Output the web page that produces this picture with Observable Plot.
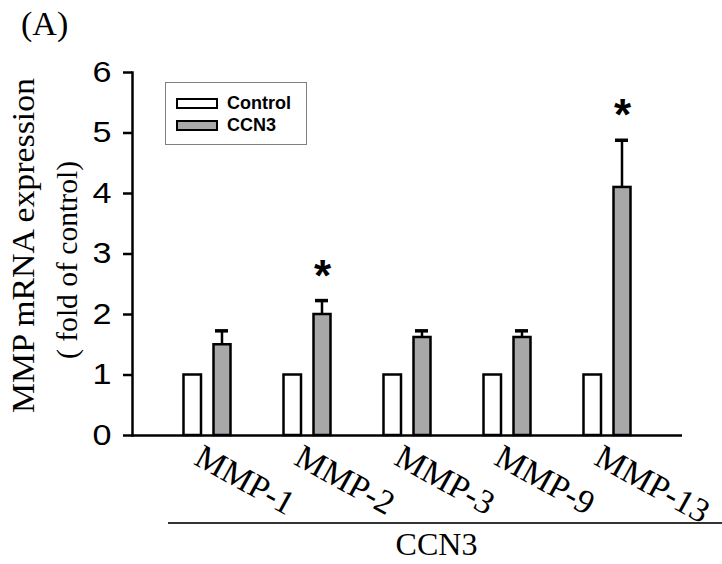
<!DOCTYPE html>
<html><head><meta charset="utf-8">
<script src="https://cdn.jsdelivr.net/npm/d3@7"></script>
<script src="https://cdn.jsdelivr.net/npm/@observablehq/plot@0.6"></script>
<style>
body{margin:0;background:#fff;}
#chart{position:relative;width:722px;height:564px;overflow:hidden;}
#legend{position:absolute;left:165px;top:82px;width:140px;height:61px;border:1.5px solid #808080;background:#fff;font-family:'Liberation Sans',Arial,sans-serif;font-weight:bold;font-size:18px;}
.item{position:absolute;left:10px;height:14px;display:flex;align-items:center;}
.sw{width:38px;height:7px;border:2.5px solid #000;margin-right:9px;}
</style></head><body><div id="chart"></div>
<script>
const genes = ["MMP-1", "MMP-2", "MMP-3", "MMP-9", "MMP-13"];
const controlValues = [1, 1, 1, 1, 1];
const ccn3Values = [1.50, 2.00, 1.62, 1.62, 4.10];
const ccn3Errors = [0.23, 0.23, 0.11, 0.11, 0.78];
const significant = [false, true, false, false, true];
const yTicks = [0, 1, 2, 3, 4, 5, 6];
const seriesNames = ["Control", "CCN3"];
const seriesColors = ["#ffffff", "#a8a8a8"];
const groupLabel = "CCN3";
const yTitleLines = ["MMP mRNA expression", "( fold of control)"];
const panelLabel = "(A)";

const rows = genes.map((g, i) => ({
  gene: g, control: controlValues[i], ccn3: ccn3Values[i],
  top: ccn3Values[i] + ccn3Errors[i], sig: significant[i]
}));

const serif = "'Liberation Serif','Times New Roman',serif";
const sans = "'Liberation Sans',Arial,sans-serif";

const plot = Plot.plot({
  width: 722, height: 564,
  marginTop: 72, marginBottom: 129, marginLeft: 132, marginRight: 40,
  style: {background: "white", fontFamily: sans, color: "black"},
  x: {domain: genes, range: [156.5, 656.5], padding: 0, axis: null},
  y: {domain: [0, 6], axis: null},
  marks: [
    Plot.axisY({ticks: yTicks, tickSize: 9, tickPadding: 12, fontSize: 29, strokeWidth: 2.5, tickFormat: d => String(d)}),
    Plot.barY(rows, {x: "gene", y: "control", fill: seriesColors[0], stroke: "black", strokeWidth: 2.5, insetLeft: 26.5, insetRight: 56}),
    Plot.barY(rows, {x: "gene", y: "ccn3", fill: seriesColors[1], stroke: "black", strokeWidth: 2.5, insetLeft: 56.5, insetRight: 26.5}),
    Plot.ruleX(rows, {x: "gene", y1: "ccn3", y2: "top", dx: 14.5, stroke: "black", strokeWidth: 2.5}),
    Plot.tickY(rows, {x: "gene", y: "top", dx: 14.5, insetLeft: 43.5, insetRight: 43.5, stroke: "black", strokeWidth: 3.5}),
    Plot.text(rows.filter(d => d.sig), {x: "gene", y: "top", text: () => "*", dx: 15, dy: -24, fontSize: 44, fontWeight: "bold", fontFamily: sans, fill: "black"}),
    Plot.text(rows, {x: "gene", y: () => 0, text: "gene", rotate: 29, textAnchor: "start", lineAnchor: "bottom", dx: -15, dy: 28, fontSize: 34, fontFamily: serif, fill: "black"}),
    Plot.ruleY([0], {stroke: "black", strokeWidth: 2.5}),
    Plot.frame({anchor: "left", stroke: "black", strokeWidth: 2.5})
  ]
});

const chart = document.getElementById("chart");
chart.appendChild(plot);
const svg = d3.select(plot);

// widen y tick labels like the reference's broad digits
svg.selectAll("g[aria-label='y-axis tick label'] text")
  .attr("textLength", 19).attr("lengthAdjust", "spacingAndGlyphs");

// y title
svg.append("text").attr("transform", "translate(34,245.5) rotate(-90)")
  .attr("text-anchor", "middle").attr("font-family", serif).attr("font-size", 32).attr("fill", "black")
  .attr("textLength", 335).attr("lengthAdjust", "spacingAndGlyphs")
  .text(yTitleLines[0]);
svg.append("text").attr("transform", "translate(77,260) rotate(-90)")
  .attr("text-anchor", "middle").attr("font-family", serif).attr("font-size", 30).attr("fill", "black")
  .attr("textLength", 198).attr("lengthAdjust", "spacingAndGlyphs")
  .text(yTitleLines[1]);
// panel label
svg.append("text").attr("x", 21).attr("y", 35).attr("text-anchor", "start").attr("font-family", serif).attr("font-size", 34).attr("fill", "black").text(panelLabel);
// group line and label
svg.append("line").attr("x1", 168).attr("x2", 722).attr("y1", 523).attr("y2", 523).attr("stroke", "#333").attr("stroke-width", 1.8);
svg.append("text").attr("x", 436.5).attr("y", 555).attr("text-anchor", "middle").attr("font-family", serif).attr("font-size", 32).attr("fill", "black").text(groupLabel);

// legend
const legend = document.createElement("div");
legend.id = "legend";
seriesNames.forEach((name, i) => {
  const it = document.createElement("div");
  it.className = "item";
  it.style.top = (13 + i * 22.5) + "px";
  const sw = document.createElement("div");
  sw.className = "sw";
  sw.style.background = seriesColors[i];
  it.appendChild(sw);
  it.appendChild(document.createTextNode(name));
  legend.appendChild(it);
});
chart.appendChild(legend);
</script></body></html>
